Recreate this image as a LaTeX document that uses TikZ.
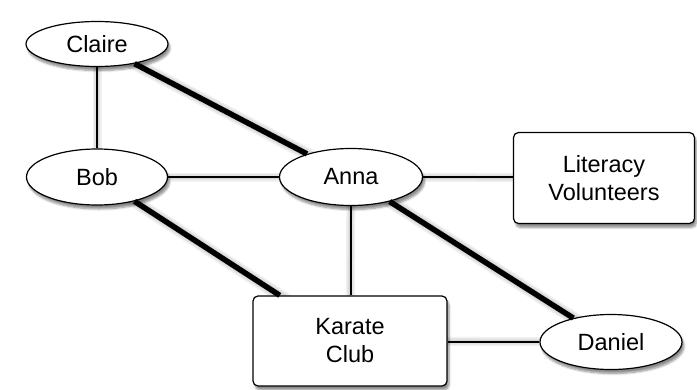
\documentclass[tikz,border=0pt]{standalone}
\usepackage{fontspec}
\setmainfont{Liberation Sans}
\usetikzlibrary{shapes.geometric,shadows.blur}
\begin{document}
\begin{tikzpicture}[x=1pt,y=-1pt,
  every node/.style={font=\fontsize{23.5}{28}\selectfont},
  person/.style={ellipse,draw,line width=1.2pt,fill=white,inner sep=0pt,
    blur shadow={shadow xshift=2pt,shadow yshift=-4pt,shadow blur steps=6,shadow opacity=45}},
  group/.style={rectangle,rounded corners=5pt,draw,line width=1.2pt,fill=white,
    align=center,inner sep=0pt,
    blur shadow={shadow xshift=2pt,shadow yshift=-4pt,shadow blur steps=6,shadow opacity=45}},
  weak/.style={line width=1.1pt},
  strong/.style={line width=5.5pt},
  edgeshadow/.style={draw=black,opacity=0.06,line width=#1,shift={(2pt,4pt)}},
]
\useasboundingbox (0,0) rectangle (697,389);
\clip (0,0) rectangle (697,389);

% edges first, with a soft offset shade
\coordinate (sC) at (97,44);
\coordinate (sB) at (97,177);
\coordinate (sA) at (351,177);
\coordinate (sK) at (350,341);
\coordinate (sD) at (611,342);
\coordinate (sL) at (604,178);

\foreach \w in {3,6,9}{
  \draw[edgeshadow=\w pt] (sC) -- (sB);
  \draw[edgeshadow=\w pt] (sB) -- (sA);
  \draw[edgeshadow=\w pt] (sA) -- (sL);
  \draw[edgeshadow=\w pt] (sA) -- (sK);
  \draw[edgeshadow=\w pt] (sK) -- (sD);
}
\foreach \w in {7,10,13}{
  \draw[edgeshadow=\w pt] (sC) -- (sA);
  \draw[edgeshadow=\w pt] (sB) -- (sK);
  \draw[edgeshadow=\w pt] (sA) -- (sD);
}

\node[person,minimum width=142pt,minimum height=45pt] (claire) at (sC) {Claire};
\node[person,minimum width=141pt,minimum height=56pt] (bob) at (sB) {Bob};
\node[person,minimum width=143pt,minimum height=57pt] (anna) at (sA) {Anna};
\node[group,minimum width=181pt,minimum height=91pt] (lit) at (sL) {Literacy\\Volunteers};
\node[group,minimum width=194pt,minimum height=90pt] (karate) at (sK) {Karate\\Club};
\node[person,minimum width=142pt,minimum height=55pt] (daniel) at (sD) {Daniel};

\draw[weak] (claire) -- (bob);
\draw[weak] (bob) -- (anna);
\draw[weak] (anna.east) -- (anna.east -| lit.west);
\draw[weak] (anna) -- (anna |- karate.north);
\draw[weak] (karate.east |- daniel) -- (daniel);
\draw[strong] (claire) -- (anna);
\draw[strong] (bob) -- (karate);
\draw[strong] (anna) -- (daniel);
\end{tikzpicture}
\end{document}
